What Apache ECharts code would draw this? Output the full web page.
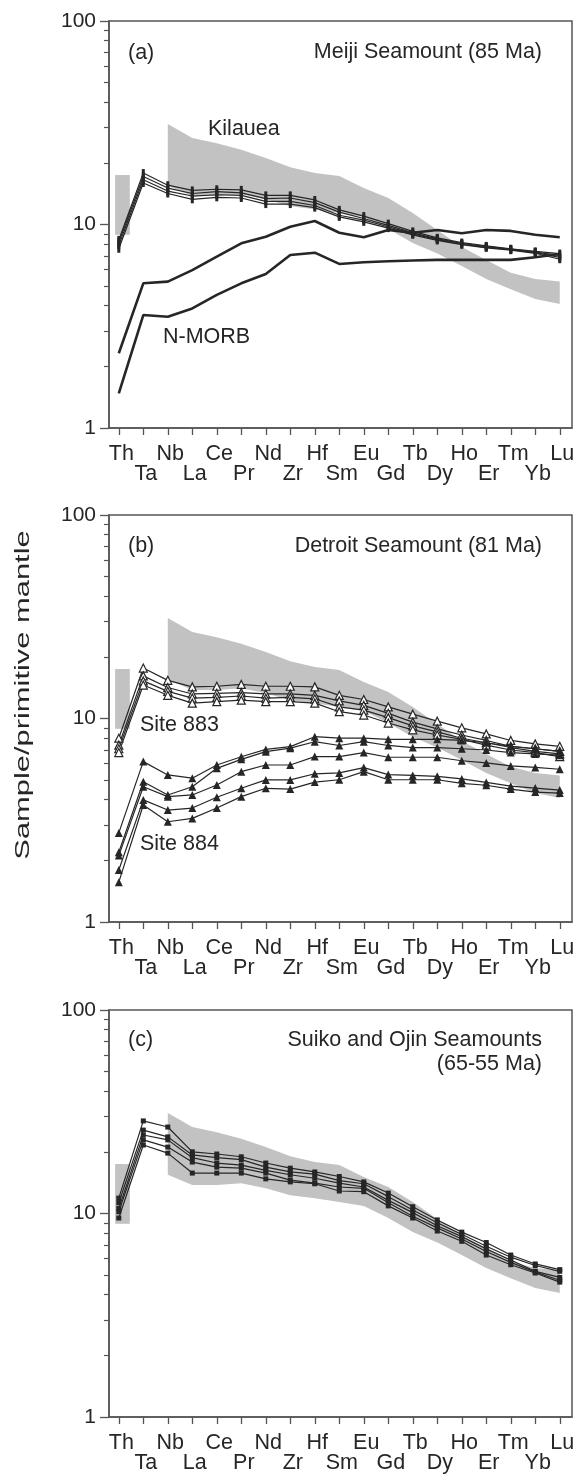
<!DOCTYPE html>
<html><head><meta charset="utf-8">
<script src="https://cdn.jsdelivr.net/npm/echarts@6/dist/echarts.min.js"></script>
<style>html,body{margin:0;padding:0;background:#fff}#c{width:583px;height:1474px}</style>
</head><body><div id="c"></div>
<script>
// ---------- data ----------
const elements = ['Th','Ta','Nb','La','Ce','Pr','Nd','Zr','Hf','Sm','Eu','Gd','Tb','Dy','Ho','Er','Tm','Yb','Lu'];
const yMajorTicks = [1, 10, 100];
const yMinorTicks = [2,3,4,5,6,7,8,9,20,30,40,50,60,70,80,90];

// Kilauea field (Nb .. Lu)
const kilaueaX     = [2,3,4,5,6,7,8,9,10,11,12,13,14,15,16,17,18];
const kilaueaUpper = [31.2,26.6,25.1,23.3,21.2,19.1,17.9,17.3,15.1,13.5,11.4,9.4,7.75,6.7,5.8,5.4,5.25];
const kilaueaLower = [15.5,13.8,13.8,14.1,13.3,12.3,11.9,11.4,10.9,9.5,8.1,7.2,6.25,5.4,4.8,4.3,4.07];
// Kilauea Th range (box)
const kilaueaThX = [-0.15, 0.45];
const kilaueaThY = [8.9, 17.5];

// (a) Meiji Seamount
const meiji1 = [8.4,17.9,15.6,14.7,14.9,14.8,13.9,13.9,13.2,11.8,11.0,10.1,9.25,8.6,8.15,7.85,7.6,7.38,7.2];
const meiji2 = [8.2,17.2,15.1,14.2,14.5,14.3,13.4,13.5,12.8,11.5,10.7,9.9,9.1,8.5,8.08,7.78,7.56,7.32,7.05];
const meiji3 = [7.9,16.6,14.6,13.8,14.0,13.9,13.0,13.0,12.4,11.1,10.5,9.75,9.0,8.42,8.0,7.72,7.52,7.27,6.9];
const meiji4 = [7.6,16.0,14.2,13.3,13.6,13.5,12.6,12.6,12.1,10.9,10.3,9.6,8.9,8.35,7.95,7.68,7.48,7.22,6.75];
const morbUpper = [2.33,5.14,5.24,5.97,6.95,8.08,8.71,9.75,10.4,9.11,8.65,9.4,9.11,9.4,9.05,9.4,9.3,8.9,8.65];
const morbLower = [1.48,3.59,3.52,3.87,4.51,5.14,5.71,7.08,7.27,6.4,6.52,6.6,6.65,6.7,6.7,6.7,6.7,6.9,7.16];

// (b) Detroit Seamount
const site883a = [8.0,17.7,15.4,14.3,14.4,14.7,14.4,14.4,14.3,13.0,12.4,11.4,10.5,9.7,9.0,8.4,7.8,7.5,7.3];
const site883b = [7.4,16.2,14.2,13.2,13.3,13.4,13.2,13.2,13.0,12.2,11.6,10.6,9.6,8.9,8.3,7.8,7.3,7.1,6.9];
const site883c = [7.1,15.3,13.6,12.6,12.7,12.9,12.6,12.7,12.5,11.4,11.0,10.1,9.2,8.6,8.0,7.6,7.2,6.9,6.7];
const site883d = [6.8,14.6,13.0,11.9,12.1,12.3,12.1,12.1,11.9,10.8,10.4,9.5,8.8,8.3,7.9,7.4,7.0,6.8,6.5];
const site884a = [2.74,6.14,5.28,5.09,5.91,6.49,7.05,7.27,8.14,8.0,8.0,7.9,7.9,7.9,7.8,7.6,7.3,7.1,6.9];
const site884b = [2.2,4.89,4.21,4.62,5.69,6.3,6.87,7.15,7.69,7.37,7.69,7.37,7.2,7.2,7.1,7.0,6.8,6.7,6.6];
const site884c = [2.12,4.62,4.13,4.21,4.71,5.48,5.91,5.91,6.5,6.5,6.8,6.45,6.45,6.45,6.2,6.05,5.85,5.75,5.63];
const site884d = [1.8,3.98,3.55,3.63,4.1,4.54,4.99,4.99,5.35,5.4,5.74,5.3,5.25,5.2,5.05,4.85,4.65,4.55,4.45];
const site884e = [1.57,3.76,3.11,3.23,3.63,4.13,4.54,4.5,4.87,5.0,5.48,5.0,5.0,5.0,4.8,4.7,4.5,4.35,4.3];

// (c) Suiko and Ojin Seamounts
const suiko1 = [11.9,28.5,26.6,20.1,19.6,19.0,17.7,16.7,16.0,15.2,14.3,12.6,10.8,9.3,8.1,7.2,6.25,5.65,5.3];
const suiko2 = [11.3,25.7,23.8,19.4,18.8,18.4,16.9,16.0,15.6,14.5,14.0,12.1,10.4,9.0,7.9,6.9,6.1,5.55,5.2];
const suiko3 = [10.6,24.3,23.0,18.8,17.7,17.3,16.3,15.5,14.9,14.1,13.5,11.6,10.1,8.7,7.7,6.7,5.9,5.2,4.85];
const suiko4 = [10.2,23.0,21.2,17.9,16.9,16.7,15.8,14.6,14.1,13.5,13.3,11.3,9.7,8.5,7.5,6.5,5.75,5.15,4.7];
const suiko5 = [9.5,21.7,19.8,15.8,15.8,15.8,14.8,14.3,14.0,12.9,12.8,10.9,9.5,8.2,7.3,6.25,5.6,5.1,4.6];

// ---------- layout / style ----------
const FONT = 'Liberation Sans, Arial, Helvetica, sans-serif';
const INK = '#262626';
const AXIS = '#555';
const BAND = '#c2c2c2';
const gridTops = [21, 515, 1010];
const tickIdx = elements.map((_, i) => i);
const evenIdx = tickIdx.filter(i => i % 2 === 0);
const oddIdx = tickIdx.filter(i => i % 2 === 1);

const chart = echarts.init(document.getElementById('c'), null, {renderer: 'canvas'});

const grids = [], xAxes = [], yAxes = [], series = [];
const labelStyle = {color: INK, fontSize: 21.5, fontFamily: FONT, lineHeight: 20, padding: [0, 0, 0, 5],
  showMinLabel: true, showMaxLabel: true, hideOverlap: false, formatter: v => elements[Math.round(v)]};
gridTops.forEach((top, g) => {
  grids.push({left: 109, width: 463, top: top, height: 407, show: true,
    borderColor: AXIS, borderWidth: 1.5, backgroundColor: 'transparent'});
  // upper row of element labels + all ticks
  xAxes.push({type: 'value', gridIndex: g, min: -0.4, max: 18.5, position: 'bottom',
    axisLine: {show: true, onZero: false, lineStyle: {color: AXIS, width: 1.5}},
    splitLine: {show: false},
    axisTick: {show: true, inside: false, length: 7, customValues: tickIdx, lineStyle: {color: AXIS, width: 1.3}},
    axisLabel: Object.assign({customValues: evenIdx, margin: 16}, labelStyle)
  });
  // lower row of element labels
  xAxes.push({type: 'value', gridIndex: g, min: -0.4, max: 18.5, position: 'bottom', offset: 0,
    axisLine: {show: false, onZero: false}, splitLine: {show: false},
    axisTick: {show: false},
    axisLabel: Object.assign({customValues: oddIdx, margin: 36}, labelStyle)
  });
  yAxes.push({type: 'log', logBase: 10, gridIndex: g, min: 1, max: 100, position: 'left',
    axisLine: {show: true, onZero: false, lineStyle: {color: AXIS, width: 1.5}},
    splitLine: {show: false},
    axisTick: {show: true, inside: false, length: 9, customValues: yMajorTicks, lineStyle: {color: AXIS, width: 1.3}},
    axisLabel: {show: true, customValues: yMajorTicks, showMinLabel: true, showMaxLabel: true,
      margin: 13, color: INK, fontSize: 21, fontFamily: FONT}
  });
  yAxes.push({type: 'log', logBase: 10, gridIndex: g, min: 1, max: 100, position: 'left', offset: 0,
    axisLine: {show: false, onZero: false}, splitLine: {show: false},
    axisTick: {show: true, inside: false, length: 5, customValues: yMinorTicks, lineStyle: {color: AXIS, width: 1.2}},
    axisLabel: {show: false}
  });

  // Kilauea field + Th box
  series.push({type: 'custom', name: 'Kilauea', xAxisIndex: 2 * g, yAxisIndex: 2 * g, z: 1, silent: true,
    data: [[2, 20]],
    renderItem: (params, api) => {
      const pts = [];
      for (let i = 0; i < kilaueaX.length; i++) pts.push(api.coord([kilaueaX[i], kilaueaUpper[i]]));
      for (let i = kilaueaX.length - 1; i >= 0; i--) pts.push(api.coord([kilaueaX[i], kilaueaLower[i]]));
      const p0 = api.coord([kilaueaThX[0], kilaueaThY[1]]);
      const p1 = api.coord([kilaueaThX[1], kilaueaThY[0]]);
      return {type: 'group', children: [
        {type: 'polygon', shape: {points: pts}, style: {fill: BAND}},
        {type: 'rect', shape: {x: p0[0], y: p0[1], width: p1[0] - p0[0], height: p1[1] - p0[1]}, style: {fill: BAND}}
      ]};
    }
  });
});

function lineSeries(g, name, vals, opts) {
  return Object.assign({
    type: 'line', name: name, xAxisIndex: 2 * g, yAxisIndex: 2 * g, z: 3,
    data: vals.map((v, i) => [i, v]),
    lineStyle: {color: INK, width: 1.2}, itemStyle: {color: INK},
    symbol: 'none', animation: false, silent: true
  }, opts);
}

const meijiSym = {symbol: 'rect', symbolSize: [3, 8], showSymbol: true};
[meiji1, meiji2, meiji3, meiji4].forEach((v, k) => series.push(lineSeries(0, 'Meiji ' + (k + 1), v, meijiSym)));
series.push(lineSeries(0, 'MORB upper', morbUpper, {lineStyle: {color: INK, width: 2.6}}));
series.push(lineSeries(0, 'N-MORB', morbLower, {lineStyle: {color: INK, width: 2.6}}));

const open883 = {symbol: 'triangle', symbolSize: 8, showSymbol: true,
  itemStyle: {color: '#fff', borderColor: INK, borderWidth: 1.2}};
const filled884 = {symbol: 'triangle', symbolSize: 8, showSymbol: true, itemStyle: {color: INK}};
[site883a, site883b, site883c, site883d].forEach((v, k) => series.push(lineSeries(1, 'Site 883-' + (k + 1), v, open883)));
[site884a, site884b, site884c, site884d, site884e].forEach((v, k) => series.push(lineSeries(1, 'Site 884-' + (k + 1), v, filled884)));

const sq = {symbol: 'rect', symbolSize: 5, showSymbol: true};
[suiko1, suiko2, suiko3, suiko4, suiko5].forEach((v, k) => series.push(lineSeries(2, 'Suiko/Ojin ' + (k + 1), v, sq)));

function txt(x, y, s, align, extra) {
  return Object.assign({type: 'text', x: x, y: y, z: 10, silent: true,
    style: {text: s, fill: INK, font: '21.5px ' + FONT, textAlign: align || 'left', textVerticalAlign: 'middle'}}, extra || {});
}

const graphics = [
  txt(128, 53, '(a)'),
  txt(542, 52, 'Meiji Seamount (85 Ma)', 'right'),
  txt(208, 129, 'Kilauea'),
  txt(163, 337, 'N-MORB'),
  txt(128, 546, '(b)'),
  txt(542, 546, 'Detroit Seamount (81 Ma)', 'right'),
  txt(140, 725, 'Site 883'),
  txt(140, 844, 'Site 884'),
  txt(128, 1040, '(c)'),
  txt(542, 1040, 'Suiko and Ojin Seamounts', 'right'),
  txt(542, 1064, '(65-55 Ma)', 'right'),
  {type: 'text', x: 23, y: 695, rotation: Math.PI / 2, scaleX: 1.47, z: 10, silent: true,
    style: {text: 'Sample/primitive mantle', fill: INK, font: '21px ' + FONT, textAlign: 'center', textVerticalAlign: 'middle'}}
];

chart.setOption({
  animation: false,
  backgroundColor: '#fff',
  grid: grids, xAxis: xAxes, yAxis: yAxes, series: series,
  graphic: graphics
});
</script></body></html>
